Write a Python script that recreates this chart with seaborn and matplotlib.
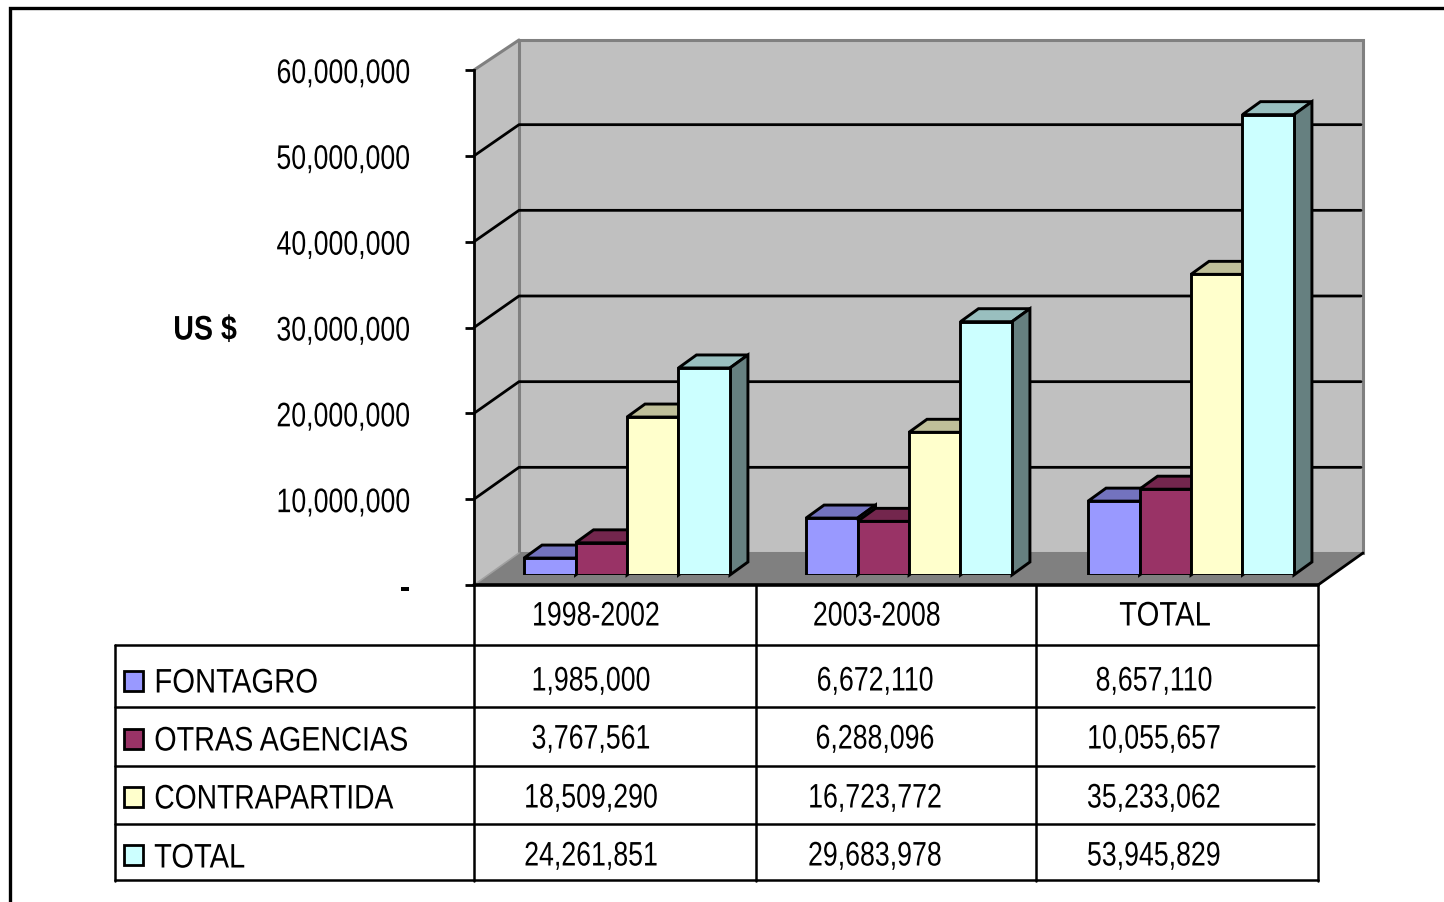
import matplotlib
matplotlib.use("Agg")
import matplotlib.pyplot as plt
import matplotlib.patheffects as pe
import pandas as pd
import seaborn as sns
from matplotlib.patches import Polygon, Rectangle
from matplotlib.transforms import Affine2D

periods = ["1998-2002", "2003-2008", "TOTAL"]
series_names = ["FONTAGRO", "OTRAS AGENCIAS", "CONTRAPARTIDA", "TOTAL"]
fontagro = [1985000, 6672110, 8657110]
otras = [3767561, 6288096, 10055657]
contrapartida = [18509290, 16723772, 35233062]
total = [24261851, 29683978, 53945829]
y_ticks = [0, 10000000, 20000000, 30000000, 40000000, 50000000, 60000000]
colors = ["#9999FF", "#993366", "#FFFFCC", "#CCFFFF"]

W, H = 1444, 902
FONT = ["Liberation Sans", "DejaVu Sans"]
FS = 24.5
DIGIT_K = 0.785
LABEL_K = [0.86, 0.845, 0.83, 0.855]

sns.set_theme(style="white")
plt.rcParams["font.family"] = FONT


class Squeeze(pe.AbstractPathEffect):
    # the original text is set very tight, so narrow the glyphs around an anchor
    def __init__(self, k, anchor="center", shift=0):
        super().__init__()
        self.k = k
        self.anchor = anchor
        self.shift = shift

    def draw_path(self, renderer, gc, tpath, affine, rgbFace=None):
        box_ = tpath.get_extents()
        ax_ = {"left": box_.x0, "right": box_.x1, "center": (box_.x0 + box_.x1) / 2}[self.anchor]
        squeezed = Affine2D().translate(-ax_, 0).scale(self.k, 1).translate(ax_, 0) + affine
        squeezed = squeezed + Affine2D().translate(0, self.shift)
        renderer.draw_path(gc, tpath, squeezed, rgbFace)


def darker(hex_color, k):
    r, g, b = matplotlib.colors.to_rgb(hex_color)
    return (r * k, g * k, b * k)


def box(x0, y0, x1, y1):
    # pixel box to figure fractions, y measured from the top
    return [x0 / W, 1 - y1 / H, (x1 - x0) / W, (y1 - y0) / H]


fig = plt.figure(figsize=(W / 100, H / 100), dpi=100, facecolor="white")

# scene axes in pixel coordinates, for walls, frame and table
scene = fig.add_axes([0, 0, 1, 1], zorder=0)
scene.set_xlim(0, W)
scene.set_ylim(H, 0)
scene.set_axis_off()

# outer frame
scene.plot([10, 10, W], [H, 8, 8], color="black", lw=2.4, solid_joinstyle="miter")

# walls and floor
scene.add_patch(Polygon([(474, 70), (519, 40), (519, 553), (474, 585)], fc="#C0C0C0", ec="none"))
scene.add_patch(Rectangle((519, 40), 844, 513, fc="#C0C0C0", ec="#808080", lw=2.2))
scene.add_patch(Polygon([(474, 585), (519, 553), (1363, 553), (1318, 585)], fc="#808080", ec="none"))
scene.plot([474, 519], [70, 40], color="#808080", lw=2.2)
scene.plot([474, 519], [585, 553], color="#A0A0A0", lw=1.2)
scene.plot([1318, 1363], [585, 553], color="black", lw=2)

# gridlines on the two walls
for v in y_ticks[1:-1]:
    y_front = 585 - v * 515 / 60000000
    y_back = 553 - v * 514 / 60000000
    scene.plot([474, 519, 1361], [y_front, y_back, y_back], color="black", lw=2)

# value axis on the front edge of the left wall
tick_ax = fig.add_axes(box(474, 70, 1318, 585), zorder=1, facecolor="none")
tick_ax.set_xlim(0, 1)
tick_ax.set_ylim(0, 60000000)
tick_ax.set_xticks([])
tick_ax.set_yticks(y_ticks)
tick_ax.set_yticklabels(["-" if v == 0 else f"{v:,}" for v in y_ticks], fontsize=FS, color="black")
tick_ax.tick_params(axis="y", left=True, length=6.5, width=2, color="black", pad=39)
for lab in tick_ax.get_yticklabels():
    if lab.get_text() == "-":
        lab.set_fontweight("bold")
        lab.set_path_effects([Squeeze(1, "right", -1)])
    else:
        lab.set_path_effects([Squeeze(DIGIT_K, "right", -1)])
for side in ["top", "right", "bottom"]:
    tick_ax.spines[side].set_visible(False)
tick_ax.spines["left"].set_color("black")
tick_ax.spines["left"].set_linewidth(2)

# bars
df = pd.DataFrame({
    "periodo": periods * 4,
    "serie": [s for s in series_names for _ in periods],
    "valor": fontagro + otras + contrapartida + total,
})
bar_ax = fig.add_axes(box(486, 63, 1332, 575), zorder=2, facecolor="none")
sns.barplot(
    data=df, x="periodo", y="valor", hue="serie", hue_order=series_names,
    palette=colors, saturation=1, width=0.73, gap=0, dodge=True,
    edgecolor="black", linewidth=2.1, legend=False, ax=bar_ax,
)
bar_ax.set_xlim(-0.5, 2.5)
bar_ax.set_ylim(0, 60000000)
bar_ax.set_axis_off()

# depth faces, offset from each front face
dx = 18 / 282
dy = 13 * 60000000 / 512
n_groups = len(periods)
for k, bar in enumerate(list(bar_ax.patches)):
    hue_i = k // n_groups
    x0, w, h = bar.get_x(), bar.get_width(), bar.get_height()
    base = colors[hue_i]
    order = 3 + hue_i * 2
    bar.set_zorder(order + 1)
    bar.set_joinstyle("miter")
    top = [(x0, h), (x0 + dx, h + dy), (x0 + w + dx, h + dy), (x0 + w, h)]
    side = [(x0 + w, 0), (x0 + w + dx, dy), (x0 + w + dx, h + dy), (x0 + w, h)]
    for pts, shade in [(top, 0.75), (side, 0.5)]:
        bar_ax.add_patch(Polygon(pts, fc=darker(base, shade), ec="black", lw=2.1,
                                 joinstyle="miter", zorder=order, clip_on=False))

# axis title
scene.text(205, 331, "US $", fontsize=FS, fontweight="bold", ha="center", va="center", color="black",
           path_effects=[Squeeze(0.84)])

# data table
scene.plot([115, 1318], [645, 645], color="black", lw=1.8)
scene.plot([115, 1318], [880, 880], color="black", lw=1.8)
for y in [707, 766, 824]:
    scene.plot([115, 1314], [y, y], color="black", lw=1.8)
scene.plot([474, 1318], [585, 585], color="black", lw=2.6)
scene.plot([115, 115], [645, 881], color="black", lw=1.8)
for x in [474, 756, 1036, 1318]:
    scene.plot([x, x], [585, 881], color="black", lw=1.8)

header_x = [596, 877, 1165]
header_k = [DIGIT_K, DIGIT_K, 0.86]
col_x = [591, 875, 1154]
row_y = [682, 740, 799, 857]
label_y = [684, 742, 800, 859]
key_y = [681, 739, 797, 855]
for name, x, kk in zip(periods, header_x, header_k):
    scene.text(x, 617, name, fontsize=FS, ha="center", va="center", color="black",
               path_effects=[Squeeze(kk)])
rows = [fontagro, otras, contrapartida, total]
for i, name in enumerate(series_names):
    scene.add_patch(Rectangle((124, key_y[i] - 10), 19, 20, fc=colors[i], ec="black", lw=2))
    scene.text(154, label_y[i], name, fontsize=FS, ha="left", va="center", color="black",
               path_effects=[Squeeze(LABEL_K[i], "left")])
    for j, x in enumerate(col_x):
        scene.text(x, row_y[i], f"{rows[i][j]:,}", fontsize=FS, ha="center", va="center", color="black",
                   path_effects=[Squeeze(DIGIT_K)])

fig.savefig("out.png", dpi=100, facecolor="white")
